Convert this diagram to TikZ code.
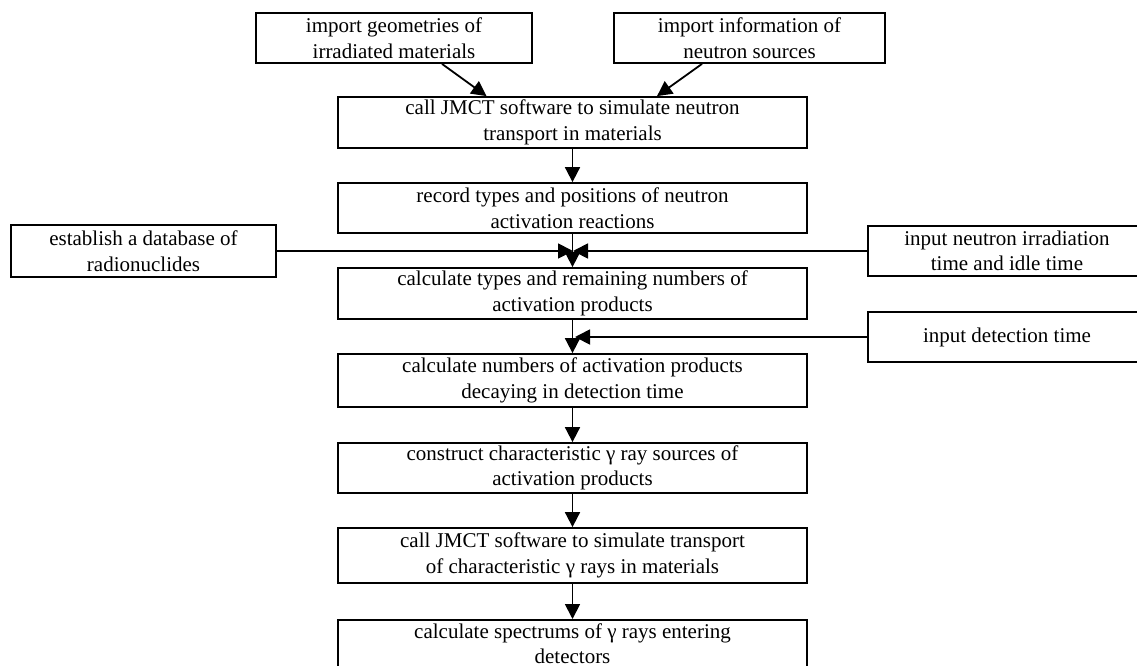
\documentclass[tikz,border=0pt]{standalone}
\usepackage{fontspec}
\setmainfont{Liberation Serif}
\usetikzlibrary{arrows.meta,positioning}
\begin{document}
\begin{tikzpicture}[x=1pt,y=-1pt,
  box/.style={draw=black,line width=1.8pt,fill=white,inner sep=0pt,align=center,
    font=\fontsize{21}{25.5}\selectfont},
  conn/.style={line width=1.8pt,-{Triangle[length=15pt,width=15pt]}}]
\clip (0,0) rectangle (1137,665);
\fill[white] (0,0) rectangle (1137,665);
% nodes
\node[box,minimum width=276pt,minimum height=50pt] (geo) at (394,38) {import geometries of\\irradiated materials};
\node[box,minimum width=271pt,minimum height=50pt] (src) at (749.5,38) {import information of\\neutron sources};
\node[box,minimum width=469pt,minimum height=51pt] (b1) at (572.5,122.5) {call JMCT software to simulate neutron\\transport in materials};
\node[box,minimum width=469pt,minimum height=50pt] (b2) at (572.5,208) {record types and positions of neutron\\activation reactions};
\node[box,minimum width=265pt,minimum height=52pt] (db) at (143.5,251) {establish a database of\\radionuclides};
\node[box,minimum width=278pt,minimum height=50pt] (irr) at (1007,251) {input neutron irradiation\\time and idle time};
\node[box,minimum width=469pt,minimum height=51pt] (b3) at (572.5,293.5) {calculate types and remaining numbers of\\activation products};
\node[box,minimum width=278pt,minimum height=50pt] (det) at (1007,337) {input detection time};
\node[box,minimum width=469pt,minimum height=53pt] (b4) at (572.5,380.5) {calculate numbers of activation products\\decaying in detection time};
\node[box,minimum width=469pt,minimum height=50pt] (b5) at (572.5,468) {construct characteristic γ ray sources of\\activation products};
\node[box,minimum width=469pt,minimum height=55pt] (b6) at (572.5,555.5) {call JMCT software to simulate transport\\of characteristic γ rays in materials};
\node[box,minimum width=469pt,minimum height=48pt,anchor=north] (b7) at (572.5,619) {calculate spectrums of γ rays entering\\detectors};
% junction coordinates
\coordinate (j1) at (573,251);
\coordinate (j2) at (575,337);
% connectors
\draw[conn] ([xshift=48pt]geo.south) -- ([xshift=-86pt]b1.north);
\draw[conn] ([xshift=-47.5pt]src.south) -- ([xshift=84.5pt]b1.north);
\draw[conn] (b1.south) -- (b2.north);
\draw[conn] (b2.south) -- (b3.north);
\draw[conn] (db.east) -- (j1);
\draw[conn] (irr.west) -- (j1);
\draw[conn] (b3.south) -- (b4.north);
\draw[conn] (det.west) -- (j2);
\draw[conn] (b4.south) -- (b5.north);
\draw[conn] (b5.south) -- (b6.north);
\draw[conn] (b6.south) -- (b7.north);
\end{tikzpicture}
\end{document}
